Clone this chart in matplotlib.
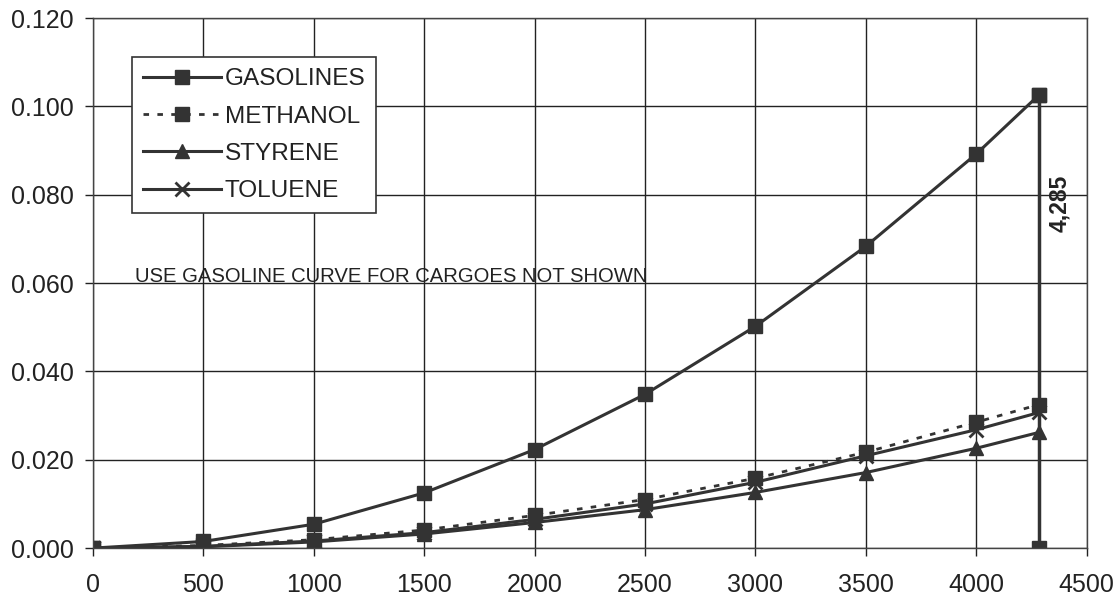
import matplotlib
matplotlib.use('Agg')
import matplotlib.pyplot as plt

plt.rcParams['font.family'] = ['Liberation Sans', 'DejaVu Sans']

# cargo quantity (x) and values per series
xs = [0, 500, 1000, 1500, 2000, 2500, 3000, 3500, 4000, 4285]
gasolines = [0.0, 0.0015, 0.0054, 0.0125, 0.0223, 0.0348, 0.0502, 0.0683, 0.0892, 0.1026]
methanol = [0.0, 0.0006, 0.0019, 0.0041, 0.0074, 0.0110, 0.0158, 0.0217, 0.0285, 0.0325]
styrene = [0.0, 0.0003, 0.0014, 0.0032, 0.0058, 0.0087, 0.0126, 0.0171, 0.0226, 0.0262]
toluene = [0.0, 0.0004, 0.0016, 0.0035, 0.0065, 0.0100, 0.0149, 0.0209, 0.0268, 0.0307]
drop_x = [4285, 4285]
drop_y = [0.1026, 0.0]

xticks = [0, 500, 1000, 1500, 2000, 2500, 3000, 3500, 4000, 4500]
yticks = [0.0, 0.02, 0.04, 0.06, 0.08, 0.10, 0.12]

col = '#333333'

fig = plt.figure(figsize=(11.19, 6.01), dpi=100)
ax = fig.add_axes([0.083, 0.088, 0.888, 0.882])

ax.plot(xs, gasolines, '-', color=col, lw=2.2, marker='s', ms=9.5, label='GASOLINES')
ax.plot(xs, methanol, color=col, lw=2.0, ls=(0, (2, 3)), marker='s', ms=9.5, label='METHANOL')
ax.plot(xs, styrene, '-', color=col, lw=2.2, marker='^', ms=9.5, label='STYRENE')
ax.plot(xs, toluene, '-', color=col, lw=2.2, marker='x', ms=10, mew=2, label='TOLUENE')
ax.plot(drop_x, drop_y, '-', color=col, lw=2.5, marker='s', ms=9.5)

ax.set_xlim(0, 4500)
ax.set_ylim(0, 0.12)
ax.set_xticks(xticks)
ax.set_yticks(yticks)
ax.set_yticklabels(['%.3f' % v for v in yticks])
ax.grid(True, color='#222222', lw=1.0)
ax.set_axisbelow(True)
ax.tick_params(direction='out', length=6, width=1, color='#222222',
               labelsize=18, labelcolor='#222222')
ax.tick_params(axis='x', pad=12)
ax.tick_params(axis='y', pad=8)
for s in ax.spines.values():
    s.set_color('#444444')
    s.set_linewidth(1.0)

ax.text(190, 0.0616, 'USE GASOLINE CURVE FOR CARGOES NOT SHOWN',
        fontsize=14.6, color='#222222', va='center', ha='left')
ax.text(4380, 0.078, '4,285', rotation=90, fontsize=16.5, fontweight='bold',
        color='#222222', va='center', ha='center')

leg = ax.legend(loc='upper left', bbox_to_anchor=(0.039, 0.926), fontsize=17.6,
                handlelength=3.2, frameon=True, fancybox=False, framealpha=1,
                edgecolor='#333333', borderpad=0.45, labelspacing=0.62,
                handletextpad=0.15, borderaxespad=0)
leg.get_frame().set_linewidth(1.2)
for t in leg.get_texts():
    t.set_color('#222222')

plt.savefig('out.png', dpi=100)
